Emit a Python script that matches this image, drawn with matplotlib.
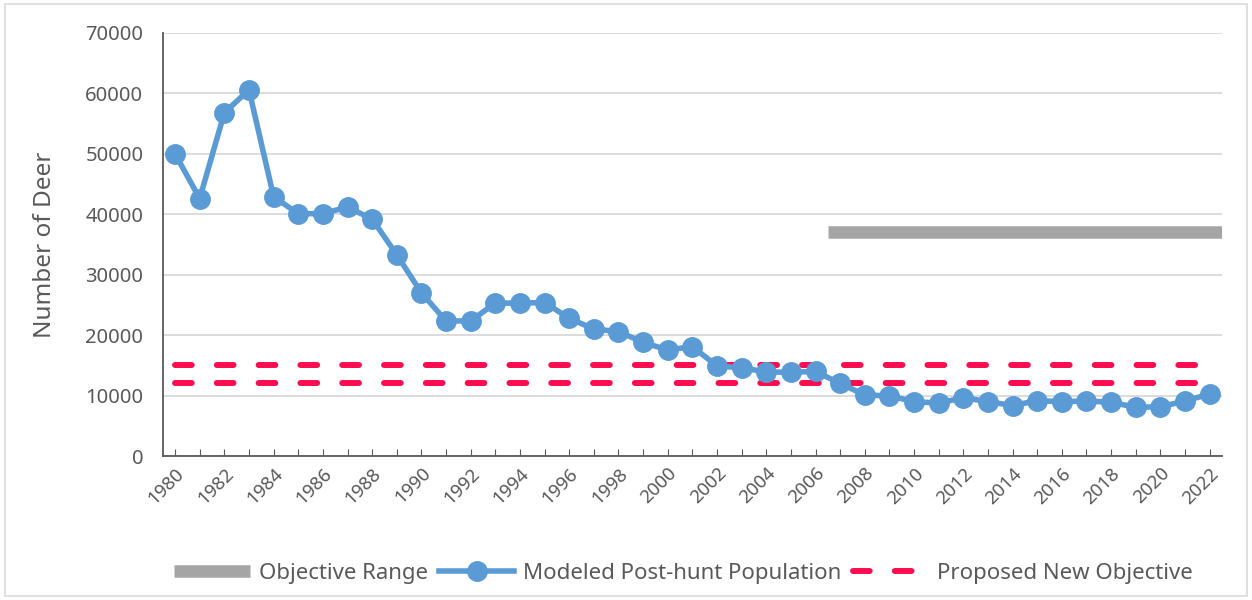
import matplotlib
matplotlib.use("Agg")
import matplotlib.pyplot as plt
from matplotlib.patches import Rectangle

years = list(range(1980, 2023))
population = [50000, 42600, 56800, 60600, 42900, 40100, 40100, 41200, 39200, 33300,
              27000, 22350, 22350, 25300, 25300, 25400, 22800, 21000, 20600, 18800,
              17550, 18100, 14900, 14600, 13900, 13850, 14000, 12000, 10100, 9950,
              9000, 8750, 9650, 9000, 8350, 9150, 9000, 9100, 8900, 8050,
              8150, 9100, 10250]
objective_range = 37000
objective_start, objective_end = 2006.5, 2022.5
proposed_objective = [15000, 12000]

text_color = "#595959"
plt.rcParams['font.family'] = ['Noto Sans', 'DejaVu Sans']

fig = plt.figure(figsize=(12.52, 6.0), dpi=100)
fig.patches.append(Rectangle((0.004, 0.006), 0.992, 0.988, transform=fig.transFigure,
                             fill=False, edgecolor="#D9D9D9", linewidth=1.2))
ax = fig.add_axes([0.130, 0.240, 0.846, 0.705])

x = list(range(len(years)))

ax.plot([objective_start - years[0], objective_end - years[0]],
        [objective_range, objective_range], color="#A5A5A5", linewidth=9,
        solid_capstyle="butt", label="Objective Range", zorder=2)
ax.plot(x, population, color="#5B9BD5", linewidth=4.0, marker="o", markersize=14,
        label="Modeled Post-hunt Population", zorder=4)
for i, v in enumerate(proposed_objective):
    ax.plot([x[0], x[-1]], [v, v], color="#FF0D50", linewidth=4.3,
            dashes=(2.8, 4.2), dash_capstyle="round",
            label="Proposed New Objective" if i == 0 else None, zorder=3)

ax.set_xlim(-0.5, len(years) - 0.5)
ax.set_ylim(0, 70000)
ax.set_yticks(range(0, 70001, 10000))
ax.set_yticklabels([str(v) for v in range(0, 70001, 10000)], fontsize=14.5, color=text_color)
ax.set_xticks(x)
ax.set_xticklabels([str(y) if y % 2 == 0 else "" for y in years], rotation=45,
                   ha="right", rotation_mode="anchor", fontsize=13.5, color=text_color)
ax.tick_params(axis="x", direction="in", length=5, color=text_color, pad=6)
ax.tick_params(axis="y", length=0, pad=14)
ax.grid(axis="y", color="#D9D9D9", linewidth=1.3)
ax.set_axisbelow(True)
for s in ["top", "right"]:
    ax.spines[s].set_visible(False)
for s in ["left", "bottom"]:
    ax.spines[s].set_color(text_color)
    ax.spines[s].set_linewidth(1.3)
ax.set_ylabel("Number of Deer", fontsize=17.5, color=text_color, labelpad=20)

handles, labels = ax.get_legend_handles_labels()
leg = fig.legend(handles, labels, loc="center", bbox_to_anchor=(0.546, 0.045), ncol=3,
                 frameon=False, fontsize=16, handlelength=3.4, columnspacing=0.5,
                 handletextpad=0.4)
for t in leg.get_texts():
    t.set_color(text_color)

fig.savefig("out.png", dpi=100)
